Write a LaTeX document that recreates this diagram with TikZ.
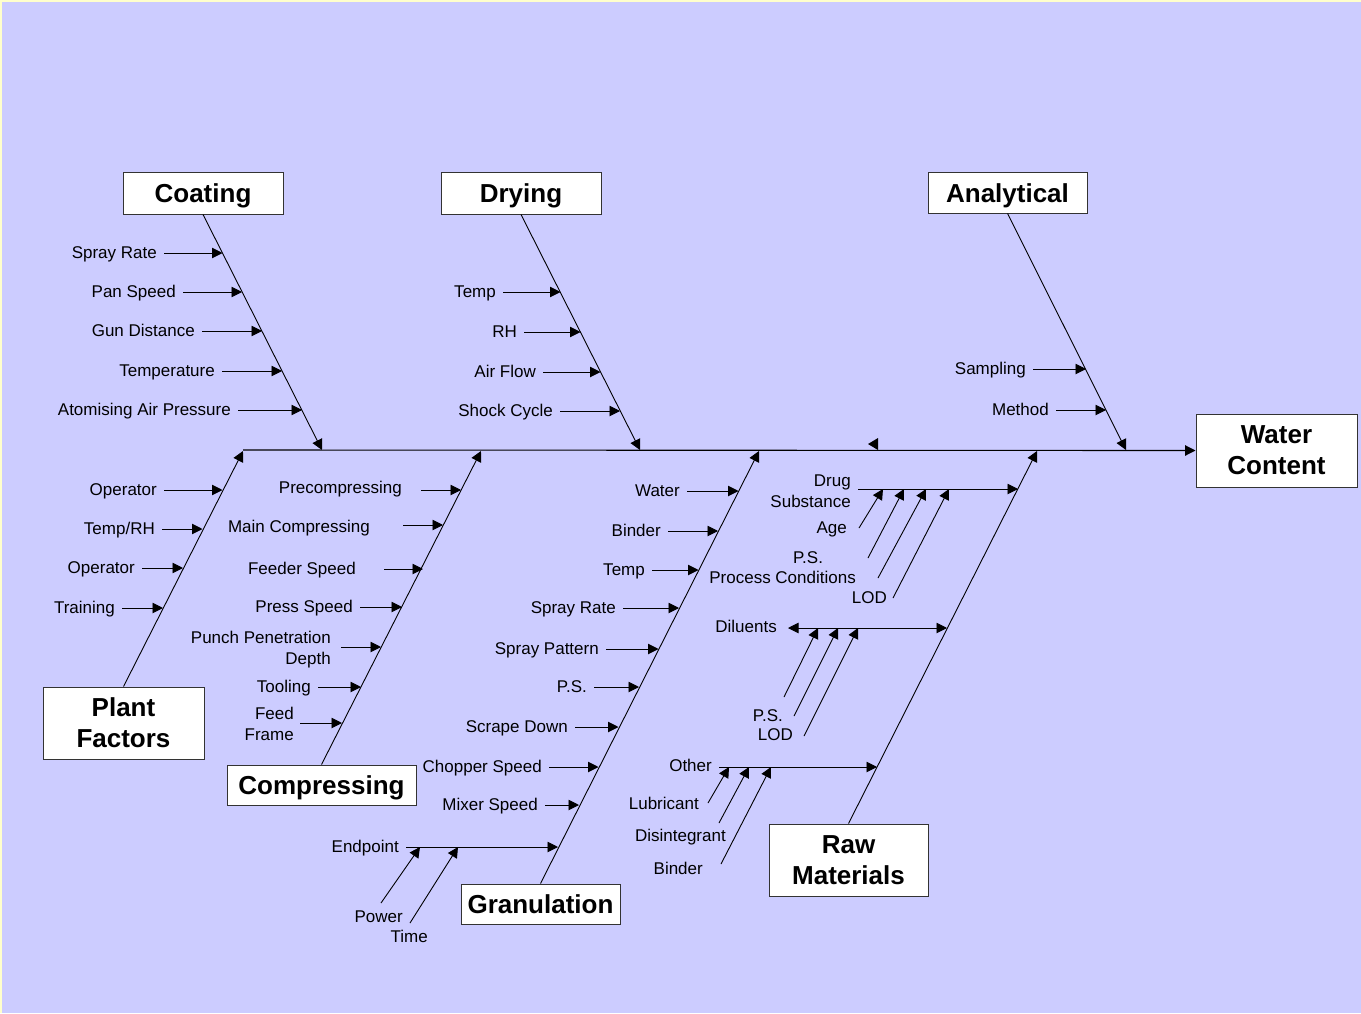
\documentclass[tikz,border=0pt]{standalone}
\usepackage{fontspec}
\setmainfont{Liberation Sans}
\usetikzlibrary{arrows.meta}
\definecolor{bgblue}{HTML}{CCCCFF}
\definecolor{bgyel}{HTML}{FFFFCC}
\tikzset{
  lab/.style={inner sep=0pt, font=\fontsize{17}{21}\selectfont, text height=12pt, text depth=1pt},
  mlab/.style={inner sep=0pt, font=\fontsize{17}{21}\selectfont, align=right},
  title/.style={draw=black!80, line width=1pt, fill=white, font=\fontsize{26}{31}\selectfont\bfseries, align=center, inner sep=0pt},
  title1/.style={title, text height=19pt, text depth=0pt},
  arr/.style={line width=0.9pt, -{Triangle[length=10.5pt,width=10.5pt]}},
  barr/.style={line width=0.9pt, {Triangle[length=10.5pt,width=10.5pt]}-{Triangle[length=10.5pt,width=10.5pt]}},
}
% name, text, text right x, y, target x
\newcommand\cause[5]{%
  \node[lab, anchor=east] (#1) at (#3,#4) {#2};
  \coordinate (#1t) at (#5,#4);
  \draw[arr] ([xshift=7pt]#1.east) -- (#1t);
}
\begin{document}
\begin{tikzpicture}[x=1pt,y=-1pt]
\fill[bgyel] (0,0) rectangle (1361,1013);
\fill[bgblue] (2,1.5) rectangle (1361,1013);
\useasboundingbox (0,0) rectangle (1361,1013);

% title boxes
\node[title1, minimum width=160pt, minimum height=42pt] (coat) at (203,193) {Coating};
\node[title1, minimum width=160pt, minimum height=42pt] (dry) at (521,193) {Drying};
\node[title1, minimum width=159pt, minimum height=41pt] (ana) at (1007.5,192.5) {Analytical};
\node[title, minimum width=161pt, minimum height=73pt] (wc) at (1276.5,450.5) {Water\\Content};
\node[title, minimum width=161pt, minimum height=72pt] (pf) at (123.5,723) {Plant\\Factors};
\node[title1, minimum width=189pt, minimum height=40pt] (comp) at (321.5,785) {Compressing};
\node[title1, minimum width=159pt, minimum height=40pt] (gran) at (540.5,904) {Granulation};
\node[title, minimum width=159pt, minimum height=72pt] (raw) at (848.5,860) {Raw\\Materials};

% spine
\coordinate (spL) at (243,450);
\draw[line width=1.1pt, -{Triangle[length=10.5pt,width=10.5pt]}] (spL) -- (wc.west);
% stray arrowhead on spine
\fill (868,444) -- (878,438) -- (878,450) -- cycle;

% spine points
\coordinate (cS) at (322,450);
\coordinate (dS) at (640,450);
\coordinate (aS) at (1126,450);
\coordinate (pS) at (243,451);
\coordinate (kS) at (481,451);
\coordinate (gS) at (759,451);
\coordinate (rS) at (1037,451);

% main bones
\draw[arr] (coat.south) -- (cS);
\draw[arr] (dry.south) -- (dS);
\draw[arr] (ana.south) -- (aS);
\draw[arr] (pf.north) -- (pS);
\draw[arr] (comp.north) -- (kS);
\draw[arr] (gran.north) -- (gS);
\draw[arr] (raw.north) -- (rS);

% Coating
\cause{c1}{Spray Rate}{157}{253}{222.5}
\cause{c2}{Pan Speed}{176}{292}{242}
\cause{c3}{Gun Distance}{195}{331}{262}
\cause{c4}{Temperature}{215}{371}{282}
\cause{c5}{Atomising Air Pressure}{231}{410}{302}

% Drying
\cause{d1}{Temp}{496}{292}{560.5}
\cause{d2}{RH}{517}{332}{580.5}
\cause{d3}{Air Flow}{536}{372}{600.5}
\cause{d4}{Shock Cycle}{553}{411}{620}

% Analytical
\cause{a1}{Sampling}{1026}{369}{1086}
\cause{a2}{Method}{1049}{410}{1106}

% Plant factors
\cause{p1}{Operator}{157}{490}{222.5}
\cause{p2}{Temp/RH}{155}{529}{202.5}
\cause{p3}{Operator}{135}{568}{183}
\cause{p4}{Training}{115}{608}{163}

% Compressing
\node[lab, anchor=east] (k1) at (402,488) {Precompressing};
\coordinate (k1t) at (461,490);
\draw[arr] (k1.east |- k1t) ++(19,0) -- (k1t);
\node[lab, anchor=east] (k2) at (370,527) {Main Compressing};
\coordinate (k2t) at (443,525);
\draw[arr] (k2.east |- k2t) ++(33,0) -- (k2t);
\node[lab, anchor=east] (k3) at (356,569) {Feeder Speed};
\coordinate (k3t) at (423,569);
\draw[arr] ([xshift=28pt]k3.east) -- (k3t);
\cause{k4}{Press Speed}{353}{607}{402}
\node[mlab, anchor=east] (k5) at (331,650) {Punch Penetration\\Depth};
\coordinate (k5t) at (381,647);
\draw[arr] (k5.east |- k5t) ++(10,0) -- (k5t);
\cause{k6}{Tooling}{311}{687}{361}
\node[mlab, anchor=east] (k7) at (294,724) {Feed\\Frame};
\coordinate (k7t) at (342,723);
\draw[arr] (k7.east |- k7t) ++(6,0) -- (k7t);

% Granulation
\cause{g1}{Water}{680}{491}{738.5}
\cause{g2}{Binder}{661}{531}{718}
\cause{g3}{Temp}{645}{570}{698.5}
\cause{g4}{Spray Rate}{616}{608}{679}
\cause{g5}{Spray Pattern}{599}{649}{658.5}
\cause{g6}{P.S.}{587}{687}{639}
\cause{g7}{Scrape Down}{568}{727}{618.5}
\cause{g8}{Chopper Speed}{542}{767}{598.5}
\cause{g9}{Mixer Speed}{538}{805}{579}

% Endpoint sub-branch
\node[lab, anchor=east] (ep) at (399,847) {Endpoint};
\coordinate (ept) at (558,847);
\draw[arr] ([xshift=7pt]ep.east) -- (ept);
\node[lab, anchor=east] (pw) at (403,917) {Power};
\node[lab, anchor=east] (tm) at (428,937) {Time};
\coordinate (pwS) at (381,903);
\coordinate (pwT) at (420,847);
\coordinate (tmS) at (410,923);
\coordinate (tmT) at (458,847);
\draw[arr] (pwS) -- (pwT);
\draw[arr] (tmS) -- (tmT);

% Raw materials: Drug substance
\node[mlab, anchor=east] (drug) at (851,491) {Drug\\Substance};
\coordinate (drugS) at (858,489);
\coordinate (drugT) at (1018,489);
\draw[arr] (drugS) -- (drugT);
\node[lab, anchor=east] (age) at (847,528) {Age};
\node[lab] (ps1) at (808,558) {P.S.};
\node[lab, anchor=east] (pc) at (856,578) {Process Conditions};
\node[lab, anchor=east] (lod1) at (887,598) {LOD};
\coordinate (ageS) at (859,528); \coordinate (ageT) at (883,489);
\coordinate (ps1S) at (868,558); \coordinate (ps1T) at (904,489);
\coordinate (pcS) at (878,578);  \coordinate (pcT) at (926,489);
\coordinate (lodS) at (893,598); \coordinate (lodT) at (949,489);
\draw[arr] (ageS) -- (ageT);
\draw[arr] (ps1S) -- (ps1T);
\draw[arr] (pcS) -- (pcT);
\draw[arr] (lodS) -- (lodT);

% Diluents
\node[lab, anchor=east] (dil) at (777,627) {Diluents};
\coordinate (dilS) at (788,628);
\coordinate (dilT) at (947,628);
\draw[barr] (dilS) -- (dilT);
\node[lab, anchor=east] (ps2) at (783,716) {P.S.};
\node[lab, anchor=east] (lod2) at (793,735) {LOD};
\coordinate (dl1S) at (784,697); \coordinate (dl1T) at (818,628);
\coordinate (dl2S) at (794,716); \coordinate (dl2T) at (838,628);
\coordinate (dl3S) at (804,736); \coordinate (dl3T) at (858,628);
\draw[arr] (dl1S) -- (dl1T);
\draw[arr] (dl2S) -- (dl2T);
\draw[arr] (dl3S) -- (dl3T);

% Other
\node[lab, anchor=east] (oth) at (712,766) {Other};
\coordinate (othS) at (719,767);
\coordinate (othT) at (877,767);
\draw[arr] (othS) -- (othT);
\node[lab, anchor=east] (lub) at (699,804) {Lubricant};
\node[lab, anchor=east] (dis) at (726,836) {Disintegrant};
\node[lab, anchor=east] (bnd) at (703,869) {Binder};
\coordinate (lubS) at (708,803); \coordinate (lubT) at (729,767);
\coordinate (disS) at (719,823); \coordinate (disT) at (749,767);
\coordinate (bndS) at (721,864); \coordinate (bndT) at (771,767);
\draw[arr] (lubS) -- (lubT);
\draw[arr] (disS) -- (disT);
\draw[arr] (bndS) -- (bndT);
\end{tikzpicture}
\end{document}
